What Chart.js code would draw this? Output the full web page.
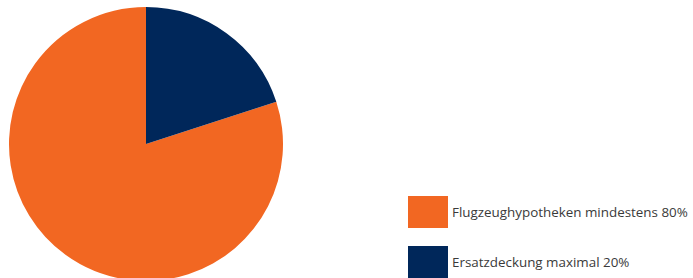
<!DOCTYPE html>
<html>
<head>
<meta charset="utf-8">
<script src="https://cdn.jsdelivr.net/npm/chart.js@4"></script>
<style>
  html, body { margin: 0; padding: 0; width: 693px; height: 278px; overflow: hidden; background: #fff; }
  #pieBox { position: absolute; left: 9px; top: 7px; width: 274px; height: 274px; }
  #legend { position: absolute; left: 408px; top: 196px; font-family: "Open Sans", sans-serif; font-size: 13.4px; color: #3a3a3a; }
  .item { display: flex; align-items: center; height: 32px; margin-bottom: 18px; }
  .swatch { width: 40px; height: 32px; margin-right: 4px; }
</style>
</head>
<body>
<div id="pieBox"><canvas id="pieChart" width="274" height="274"></canvas></div>
<div id="legend"></div>
<script>
// categories + values
const labels = ["Flugzeughypotheken mindestens 80%", "Ersatzdeckung maximal 20%"];
const values = [80, 20];
const colors = ["#F26722", "#00275A"];

new Chart(document.getElementById("pieChart"), {
  type: "pie",
  data: {
    labels: labels,
    datasets: [{
      data: values,
      backgroundColor: colors,
      borderWidth: 0
    }]
  },
  options: {
    responsive: false,
    animation: false,
    rotation: 72,
    layout: { padding: 0 },
    plugins: {
      legend: { display: false },
      tooltip: { enabled: false }
    }
  }
});

// legend as html
const legendEl = document.getElementById("legend");
labels.forEach((label, i) => {
  const row = document.createElement("div");
  row.className = "item";
  const sw = document.createElement("div");
  sw.className = "swatch";
  sw.style.background = colors[i];
  const txt = document.createElement("span");
  txt.textContent = label;
  row.appendChild(sw);
  row.appendChild(txt);
  legendEl.appendChild(row);
});
</script>
</body>
</html>
